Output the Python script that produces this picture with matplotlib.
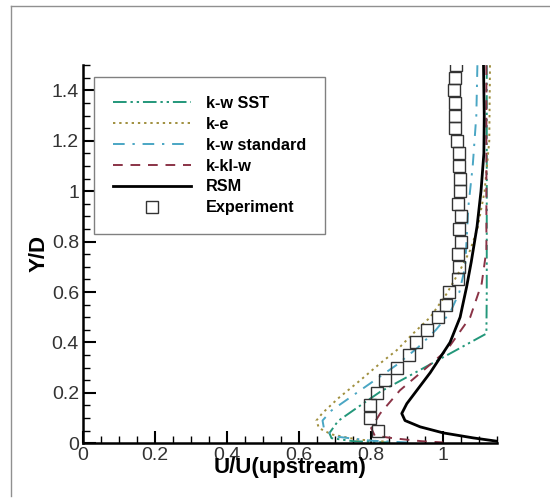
import numpy as np
import matplotlib
matplotlib.use('Agg')
import matplotlib.pyplot as plt
from matplotlib.lines import Line2D
from matplotlib.ticker import MultipleLocator

plt.rcParams['font.family'] = ['Liberation Sans', 'DejaVu Sans']

# 实验数据 (方块)
y_exp = [1.5, 1.45, 1.4, 1.35, 1.3, 1.25, 1.2, 1.15, 1.1, 1.05, 1.0, 0.95, 0.9, 0.85,
         0.8, 0.75, 0.7, 0.65, 0.6, 0.55, 0.5, 0.45, 0.4, 0.35, 0.3, 0.25, 0.2, 0.15,
         0.1, 0.05]
u_exp = [1.036, 1.034, 1.031, 1.033, 1.033, 1.032, 1.038, 1.045, 1.044, 1.047, 1.047,
         1.042, 1.049, 1.045, 1.049, 1.041, 1.043, 1.040, 1.015, 1.007, 0.987, 0.955,
         0.925, 0.906, 0.873, 0.839, 0.815, 0.798, 0.798, 0.819]

# k-w SST
u_sst = [1.121, 1.121, 1.121, 1.120, 0.825, 0.76, 0.708, 0.684, 0.69, 0.75, 0.85]
y_sst = [1.5, 1.0, 0.6, 0.435, 0.204, 0.14, 0.088, 0.04, 0.02, 0.008, 0.003]

# k-e
u_ke = [1.13, 1.128, 1.115, 1.095, 1.075, 1.047, 1.01, 0.964, 0.917, 0.871, 0.825,
        0.77, 0.71, 0.665, 0.648, 0.655, 0.69, 0.76, 0.85]
y_ke = [1.5, 1.2, 1.0, 0.85, 0.766, 0.687, 0.594, 0.5, 0.436, 0.369, 0.317,
        0.25, 0.18, 0.12, 0.09, 0.06, 0.035, 0.015, 0.005]

# k-w standard
u_kws = [1.095, 1.092, 1.082, 1.07, 1.061, 1.045, 1.02, 0.98, 0.93, 0.87, 0.80,
         0.74, 0.69, 0.665, 0.67, 0.71, 0.8, 0.9]
y_kws = [1.5, 1.3, 1.1, 0.94, 0.7, 0.6, 0.52, 0.45, 0.38, 0.31, 0.24,
         0.18, 0.13, 0.09, 0.05, 0.025, 0.01, 0.003]

# k-kl-w
u_kkl = [1.12, 1.12, 1.12, 1.107, 1.075, 1.01, 0.936, 0.88, 0.825, 0.80, 0.81, 0.86, 0.94, 1.0]
y_kkl = [1.5, 1.0, 0.766, 0.634, 0.5, 0.369, 0.278, 0.21, 0.118, 0.06, 0.03, 0.02, 0.008, 0.003]

# RSM
u_rsm = [1.112, 1.114, 1.113, 1.105, 1.094, 1.078, 1.065, 1.047, 1.019, 0.987, 0.964,
         0.927, 0.899, 0.885, 0.894, 0.936, 1.0, 1.084, 1.149]
y_rsm = [1.5, 1.3, 1.15, 1.0, 0.86, 0.72, 0.62, 0.5, 0.40, 0.33, 0.28,
         0.21, 0.157, 0.118, 0.09, 0.065, 0.041, 0.021, 0.008]

fig = plt.figure(figsize=(5.5, 4.98), dpi=100)
ax = fig.add_axes([0.151, 0.110, 0.753, 0.759])

# 外框 (左、上)
fig.add_artist(Line2D([0.020, 0.020], [0.005, 0.988], color='#909090', lw=1.0))
fig.add_artist(Line2D([0.020, 1.0], [0.988, 0.988], color='#909090', lw=1.0))

lw = 1.4
ax.plot(u_sst, y_sst, color='#23977a', lw=lw, ls=(0, (7, 2, 1.2, 2, 1.2, 2)), label='k-w SST')
ax.plot(u_ke, y_ke, color='#a08f3e', lw=lw, ls=(0, (1.2, 2)), label='k-e')
ax.plot(u_kws, y_kws, color='#4aa6c4', lw=lw, ls=(0, (6, 4, 1.2, 4)), label='k-w standard')
ax.plot(u_kkl, y_kkl, color='#8a3346', lw=lw, ls=(0, (5, 4)), label='k-kl-w')
ax.plot(u_rsm, y_rsm, color='black', lw=2.0, label='RSM')
ax.plot(u_exp, y_exp, ls='none', marker='s', ms=8.5, mfc='none', mec='#333333',
        mew=1.0, label='Experiment')

ax.set_xlim(0, 1.15)
ax.set_ylim(0, 1.5)
ax.xaxis.set_minor_locator(MultipleLocator(0.05))
ax.yaxis.set_minor_locator(MultipleLocator(0.05))
ax.set_xticks([0, 0.2, 0.4, 0.6, 0.8, 1.0])
ax.set_xticklabels(['0', '0.2', '0.4', '0.6', '0.8', '1'])
ax.set_yticks([0, 0.2, 0.4, 0.6, 0.8, 1.0, 1.2, 1.4])
ax.set_yticklabels(['0', '0.2', '0.4', '0.6', '0.8', '1', '1.2', '1.4'])

ax.tick_params(which='major', direction='in', length=9, width=1.5, labelsize=14,
               labelcolor='#333333', pad=3)
ax.tick_params(which='minor', direction='in', length=5, width=1.0)

for s in ['top', 'right']:
    ax.spines[s].set_visible(False)
for s in ['left', 'bottom']:
    ax.spines[s].set_linewidth(1.8)

ax.set_xlabel('U/U(upstream)', fontsize=16, fontweight='bold')
ax.xaxis.set_label_coords(0.5, -0.036)
ax.set_ylabel('Y/D', fontsize=16, fontweight='bold')
ax.yaxis.set_label_coords(-0.08, 0.503)

leg = ax.legend(loc='upper left', bbox_to_anchor=(0.027, 0.968), borderaxespad=0,
                prop={'weight': 'bold', 'size': 11.7},
                frameon=True, fancybox=False, framealpha=1, edgecolor='#808080',
                handlelength=4.8, handletextpad=0.95, labelspacing=0.36,
                borderpad=1.15)
leg.get_frame().set_linewidth(1.0)

fig.savefig('out.png', dpi=100)
